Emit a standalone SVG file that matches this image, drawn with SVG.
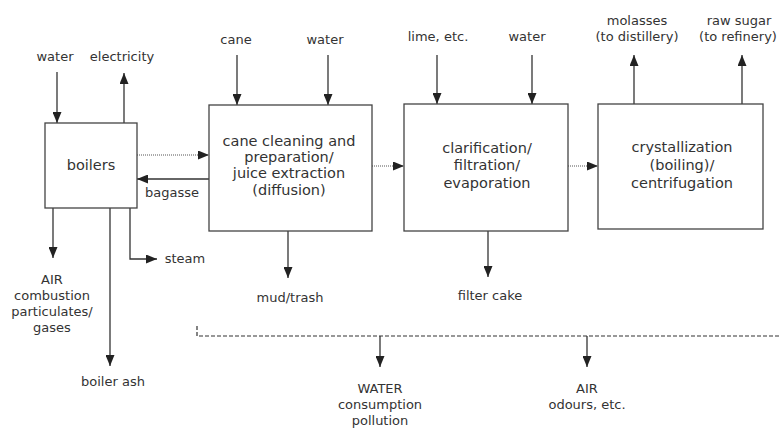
<svg xmlns="http://www.w3.org/2000/svg" width="781" height="428" viewBox="0 0 781 428">
<style>
text{font-family:"DejaVu Sans",Verdana,sans-serif;fill:#333;text-anchor:middle}
.lbl{font-size:13px}
.box{font-size:14.5px}
rect{fill:#fff;stroke:#444;stroke-width:1.3}
.ln{fill:none;stroke:#333;stroke-width:1.3;marker-end:url(#ah)}
.dot{fill:none;stroke:#555;stroke-width:1;stroke-dasharray:1 1;marker-end:url(#ah)}
.dash{fill:none;stroke:#333;stroke-width:1.2;stroke-dasharray:4 2}
</style>
<defs>
<marker id="ah" viewBox="0 0 11 9" refX="11" refY="4.5" markerWidth="11" markerHeight="9" markerUnits="userSpaceOnUse" orient="auto">
<path d="M0,0 L11,4.5 L0,9 z" fill="#222"/>
</marker>
</defs>
<g id="connectors">
<path class="ln" d="M57,72 V123"/>
<path class="ln" d="M124,123 V73"/>
<path class="dot" d="M137,155 H209"/>
<path class="ln" d="M209,179 H137"/>
<path class="ln" d="M53,208 V258"/>
<path class="ln" d="M110,208 V366"/>
<path class="ln" d="M130,208 V259 H157"/>
<path class="ln" d="M237,55 V105"/>
<path class="ln" d="M328,55 V105"/>
<path class="dot" d="M372,166 H404"/>
<path class="ln" d="M437,55 V104"/>
<path class="ln" d="M532,55 V104"/>
<path class="dot" d="M568,166 H598"/>
<path class="ln" d="M634,104 V55"/>
<path class="ln" d="M742,104 V55"/>
<path class="ln" d="M288,231 V278"/>
<path class="ln" d="M488,231 V277"/>
<path class="dash" d="M197,326 V336 H781"/>
<path class="ln" d="M380,336 V367"/>
<path class="ln" d="M587,336 V367"/>
</g>
<g id="boilers">
<rect x="45" y="123" width="92" height="85"/>
<text class="box" x="91" y="170">boilers</text>
</g>
<g id="cane">
<rect x="209" y="105" width="163" height="126"/>
<text class="box" x="289" y="146">cane cleaning and</text>
<text class="box" x="289" y="162">preparation/</text>
<text class="box" x="289" y="178">juice extraction</text>
<text class="box" x="289" y="195">(diffusion)</text>
</g>
<g id="clarification">
<rect x="404" y="104" width="164" height="127"/>
<text class="box" x="487" y="153">clarification/</text>
<text class="box" x="487" y="170">filtration/</text>
<text class="box" x="487" y="188">evaporation</text>
</g>
<g id="crystallization">
<rect x="598" y="104" width="165" height="125"/>
<text class="box" x="682" y="152">crystallization</text>
<text class="box" x="682" y="170">(boiling)/</text>
<text class="box" x="682" y="188">centrifugation</text>
</g>
<g id="labels">
<text class="lbl" x="55" y="61">water</text>
<text class="lbl" x="122" y="61">electricity</text>
<text class="lbl" x="172" y="197">bagasse</text>
<text class="lbl" x="185" y="263">steam</text>
<text class="lbl" x="52" y="284">AIR</text>
<text class="lbl" x="52" y="300">combustion</text>
<text class="lbl" x="52" y="316">particulates/</text>
<text class="lbl" x="52" y="332">gases</text>
<text class="lbl" x="113" y="386">boiler ash</text>
<text class="lbl" x="236" y="44">cane</text>
<text class="lbl" x="325" y="44">water</text>
<text class="lbl" x="438" y="41">lime, etc.</text>
<text class="lbl" x="527" y="41">water</text>
<text class="lbl" x="637" y="25">molasses</text>
<text class="lbl" x="637" y="41">(to distillery)</text>
<text class="lbl" x="739" y="25">raw sugar</text>
<text class="lbl" x="738" y="41">(to refinery)</text>
<text class="lbl" x="290" y="302">mud/trash</text>
<text class="lbl" x="490" y="300">filter cake</text>
<text class="lbl" x="380" y="393">WATER</text>
<text class="lbl" x="380" y="409">consumption</text>
<text class="lbl" x="380" y="425">pollution</text>
<text class="lbl" x="587" y="393">AIR</text>
<text class="lbl" x="587" y="409">odours, etc.</text>
</g>
</svg>
